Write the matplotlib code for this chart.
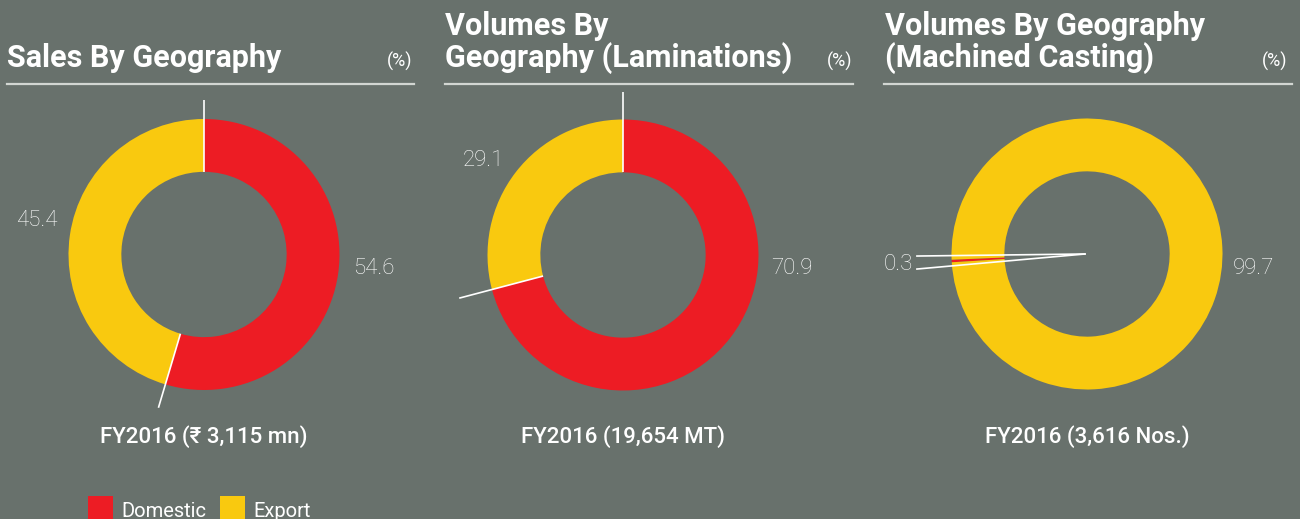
import matplotlib
matplotlib.use("Agg")
import matplotlib.pyplot as plt
from matplotlib.patches import Rectangle
from matplotlib.lines import Line2D
import numpy as np

# ---------------- data ----------------
categories = ["Domestic", "Export"]
titles = ["Sales By Geography", "Volumes By\nGeography (Laminations)", "Volumes By Geography\n(Machined Casting)"]
subtitles = ["FY2016 (\u20b9 3,115 mn)", "FY2016 (19,654 MT)", "FY2016 (3,616 Nos.)"]
sales_geo = [54.6, 45.4]
lam_geo = [70.9, 29.1]
cast_geo = [0.3, 99.7]
series = [sales_geo, lam_geo, cast_geo]

# ---------------- style ----------------
W, H = 1300, 519
BG = "#68716c"
RED = "#ed1c24"
YELLOW = "#f9c90f"
RULE = "#d2d6d2"
FONT = ["Roboto", "DejaVu Sans"]
plt.rcParams["font.family"] = FONT

fig = plt.figure(figsize=(W / 100, H / 100), dpi=100, facecolor=BG)

R_PX = 135.5
HALF = 210  # half-size of pie axes in px


def fx(x):
    return x / W


def fy(y):
    return 1 - y / H


centers = [(204, 254.5), (623, 255), (1087, 254)]
startangles = [90, 90, 183.5]
ring_w = 1 - 0.61

# label positions (in px)
label_px = [
    [(374, 268), (37, 221)],
    [(792, 268), (483, 160)],
    [(898, 265), (1253, 268)],
]

for i, (vals, (cx, cy)) in enumerate(zip(series, centers)):
    ax = fig.add_axes([fx(cx - HALF), fy(cy + HALF), HALF * 2 / W, HALF * 2 / H])
    ax.set_facecolor("none")
    ax.pie(vals, colors=[RED, YELLOW], startangle=startangles[i], counterclock=False,
           radius=1, wedgeprops=dict(width=ring_w, edgecolor="none", linewidth=0))
    lim = HALF / R_PX
    ax.set_xlim(-lim, lim)
    ax.set_ylim(-lim, lim)
    ax.set_aspect("equal", adjustable="datalim")
    ax.axis("off")

    # labels
    for (lx, ly), v in zip(label_px[i], vals):
        ax.text((lx - cx) / R_PX, -(ly - cy) / R_PX, f"{v:.1f}", color="white",
                fontsize=16, fontweight="light", ha="center", va="center",
                clip_on=False)

    # separator / leader lines
    if i < 2:
        a0 = np.deg2rad(startangles[i])
        a1 = np.deg2rad(startangles[i] - vals[0] * 3.6)
        top_r = [1.14, 1.20][i]
        end_r = [1.18, 1.25][i]
        ax.plot([0.61 * np.cos(a0), top_r * np.cos(a0)], [0.61 * np.sin(a0), top_r * np.sin(a0)],
                color="white", lw=1.2, clip_on=False, solid_capstyle="butt")
        ax.plot([0.61 * np.cos(a1), end_r * np.cos(a1)], [0.61 * np.sin(a1), end_r * np.sin(a1)],
                color="white", lw=1.2, clip_on=False, solid_capstyle="butt")
    else:
        ax.plot([-0.015, -1.255], [0.0, -0.015], color="white", lw=1.2, clip_on=False)
        ax.plot([-0.015, -1.255], [0.0, -0.111], color="white", lw=1.2, clip_on=False)

    # subtitle
    ax.text(0, -(443 - cy) / R_PX, subtitles[i], color="white", fontsize=16,
            fontweight="medium", ha="center", va="baseline", clip_on=False,
            family=["Roboto", "DejaVu Sans"])

# ---------------- titles ----------------
title_x = [7, 445, 885]
rule_x = [(7, 414), (445, 853), (884, 1292)]
pct_x = [412, 852, 1287]
for i in range(3):
    fig.text(fx(title_x[i]), fy(67), titles[i], color="white", fontsize=22,
             fontweight="bold", ha="left", va="baseline", linespacing=1.03)
    fig.text(fx(pct_x[i]), fy(67), "(%)", color="white", fontsize=13,
             fontweight="normal", ha="right", va="baseline")
    fig.add_artist(Line2D([fx(rule_x[i][0]), fx(rule_x[i][1])], [fy(83.5), fy(83.5)],
                          color=RULE, lw=1.6))

# ---------------- legend ----------------
leg_colors = [RED, YELLOW]
sq_x = [88, 220]
txt_x = [121, 253]
for c, sx, tx, name in zip(leg_colors, sq_x, txt_x, categories):
    fig.add_artist(Rectangle((fx(sx), fy(522)), 24.5 / W, 26 / H, facecolor=c,
                             edgecolor="none", transform=fig.transFigure))
    fig.text(fx(tx), fy(517), name, color="white", fontsize=14.5, fontweight="normal",
             ha="left", va="baseline")

fig.savefig("out.png", dpi=100, facecolor=BG)
